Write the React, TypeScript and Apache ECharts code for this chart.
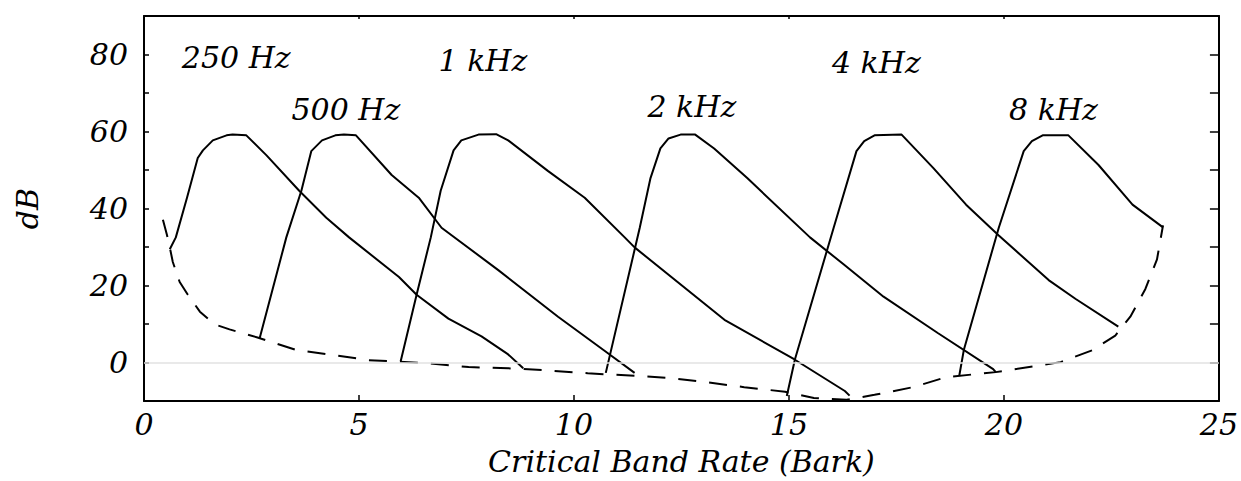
import React, { useEffect, useRef } from "react";
import * as echarts from "echarts";

// Tick values
const xTickValues = [0, 5, 10, 15, 20, 25];
const yTickLabels = [0, 20, 40, 60, 80];

// Masking curves: [critical band rate (Bark), level (dB)]
const curve250Hz = [[0.60, 29.4], [0.74, 32.5], [1.00, 42.8], [1.25, 53.1], [1.37, 55.1], [1.60, 57.7], [1.92, 59.0], [2.06, 59.2], [2.38, 59.0], [2.85, 53.8], [3.61, 44.6], [4.24, 37.6], [4.77, 32.5], [5.93, 22.2], [6.34, 17.6], [7.08, 11.4], [7.85, 6.8], [8.47, 2.1], [8.82, -1.5]];
const curve500Hz = [[2.69, 6.3], [3.31, 32.5], [3.66, 44.6], [3.89, 54.9], [4.14, 57.7], [4.45, 59.0], [4.65, 59.2], [4.93, 59.0], [5.76, 48.7], [6.39, 42.8], [6.92, 35.0], [8.24, 24.0], [9.63, 11.9], [10.79, 2.4], [11.41, -2.7]];
const curve1kHz = [[5.97, 0.3], [6.34, 17.6], [6.67, 32.5], [6.90, 44.6], [7.20, 55.1], [7.38, 57.7], [7.78, 59.2], [8.19, 59.3], [8.47, 57.7], [9.40, 49.7], [10.25, 42.8], [11.18, 32.5], [11.41, 29.9], [13.50, 11.1], [15.12, 0.85], [16.30, -7.4], [16.41, -8.6]];
const curve2kHz = [[10.74, -2.7], [11.53, 35.0], [11.78, 47.9], [12.01, 55.6], [12.2, 58.2], [12.48, 59.2], [12.82, 59.2], [13.26, 55.6], [14.03, 47.9], [15.49, 32.5], [16.27, 25.5], [17.2, 17.1], [18.47, 7.6], [19.75, -1.7], [19.81, -2.5]];
const curve4kHz = [[14.95, -8.7], [15.14, 0.85], [16.04, 35.0], [16.57, 54.9], [16.75, 57.5], [16.99, 59.0], [17.62, 59.2], [18.36, 50.5], [19.12, 41.0], [19.88, 33.0], [21.04, 21.4], [21.67, 16.5], [22.66, 9.3]];
const curve8kHz = [[18.96, -3.5], [19.07, 3.4], [19.88, 35.0], [20.46, 54.9], [20.65, 57.5], [20.90, 59.0], [21.50, 59.0], [22.20, 51.3], [22.99, 41.0], [23.70, 35.1]];

// Threshold in quiet (dashed)
const thresholdQuiet = [[0.44, 37.1], [0.53, 33.3], [0.60, 29.9], [0.67, 26.1], [0.83, 20.9], [1.02, 17.6], [1.30, 13.2], [1.64, 9.9], [1.99, 8.6], [2.64, 6.5], [3.56, 3.2], [4.42, 1.9], [5.23, 0.6], [6.62, -0.2], [7.55, -1.2], [8.47, -1.5], [9.33, -2.0], [10.32, -2.8], [11.48, -3.5], [12.18, -4.0], [13.06, -5.1], [13.96, -6.4], [14.91, -7.6], [15.58, -9.2], [16.34, -9.7], [16.99, -8.4], [17.89, -6.4], [18.66, -3.8], [19.81, -2.5], [21.32, 0.1], [22.06, 3.2], [22.59, 7.0], [22.94, 11.9], [23.29, 19.1], [23.56, 26.8], [23.70, 35.6]];

// Curve labels: [left x, middle y, text]
const curveLabels = [
  [0.88, 79.2, "250 Hz"],
  [3.43, 65.7, "500 Hz"],
  [6.85, 78.5, "1 kHz"],
  [11.71, 66.6, "2 kHz"],
  [16.0, 77.8, "4 kHz"],
  [20.12, 65.7, "8 kHz"],
];

const FONT = "DejaVu Serif";

export default function App() {
  const ref = useRef<HTMLDivElement>(null);
  useEffect(() => {
    if (!ref.current) return;
    const chart = echarts.init(ref.current, null, { renderer: "svg" });
    const curves = [curve250Hz, curve500Hz, curve1kHz, curve2kHz, curve4kHz, curve8kHz];
    const textStyle = { fontFamily: FONT, fontStyle: "italic", color: "#000" };
    const line = { show: true, onZero: false, lineStyle: { color: "#000", width: 2 } };
    chart.setOption({
      animation: false,
      backgroundColor: "#fff",
      grid: { left: 144, right: 17, top: 16, bottom: 76, containLabel: false },
      xAxis: [
        {
          type: "value",
          min: 0,
          max: 25,
          interval: 5,
          position: "bottom",
          name: "Critical Band Rate (Bark)",
          nameLocation: "middle",
          nameGap: 45,
          nameTextStyle: { ...textStyle, fontSize: 30 },
          axisLine: line,
          axisTick: { show: true, inside: true, length: 6, lineStyle: { color: "#000", width: 1.5 } },
          axisLabel: {
            ...textStyle,
            fontSize: 30,
            margin: 8,
            formatter: (v: number) => (xTickValues.includes(v) ? String(v) : ""),
          },
          splitLine: { show: false },
        },
        {
          type: "value",
          min: 0,
          max: 25,
          interval: 5,
          position: "top",
          axisLine: line,
          axisTick: { show: true, inside: true, length: 3, lineStyle: { color: "#000", width: 1.5 } },
          axisLabel: { show: false },
          splitLine: { show: false },
        },
      ],
      yAxis: [
        {
          type: "value",
          min: -10,
          max: 90,
          interval: 10,
          position: "left",
          name: "dB",
          nameLocation: "middle",
          nameGap: 102,
          nameRotate: 90,
          nameTextStyle: { ...textStyle, fontSize: 30 },
          axisLine: line,
          axisTick: { show: true, inside: true, length: 5, lineStyle: { color: "#000", width: 1.5 } },
          axisLabel: {
            ...textStyle,
            fontSize: 30,
            margin: 16,
            formatter: (v: number) => (yTickLabels.includes(v) ? String(v) : ""),
          },
          splitLine: { show: false },
        },
        {
          type: "value",
          min: -10,
          max: 90,
          interval: 10,
          position: "right",
          axisLine: line,
          axisTick: { show: true, inside: true, length: 9, lineStyle: { color: "#000", width: 1.5 } },
          axisLabel: { show: false },
          splitLine: { show: false },
        },
      ],
      series: [
        {
          type: "line",
          data: thresholdQuiet,
          symbol: "none",
          lineStyle: { color: "#000", width: 2, type: [18, 13] },
          markLine: {
            silent: true,
            symbol: "none",
            label: { show: false },
            lineStyle: { color: "#e2e2e2", type: "solid", width: 1.5 },
            data: [{ yAxis: 0 }],
          },
          z: 3,
        },
        ...curves.map((c) => ({
          type: "line",
          data: c,
          symbol: "none",
          lineStyle: { color: "#000", width: 2 },
          z: 4,
        })),
        {
          type: "scatter",
          symbolSize: 0,
          itemStyle: { opacity: 1, color: "#000" },
          data: curveLabels.map((l) => ({ value: [l[0], l[1]], name: l[2] })),
          label: {
            show: true,
            position: [0, 0],
            align: "left",
            verticalAlign: "middle",
            formatter: (p: any) => p.name,
            fontFamily: FONT,
            fontStyle: "italic",
            color: "#000",
            opacity: 1,
            fontSize: 30,
          },
          z: 5,
        },
      ],
    });
    return () => chart.dispose();
  }, []);
  return <div ref={ref} style={{ position: "fixed", left: 0, top: 0, width: 1241, height: 481 }} />;
}
